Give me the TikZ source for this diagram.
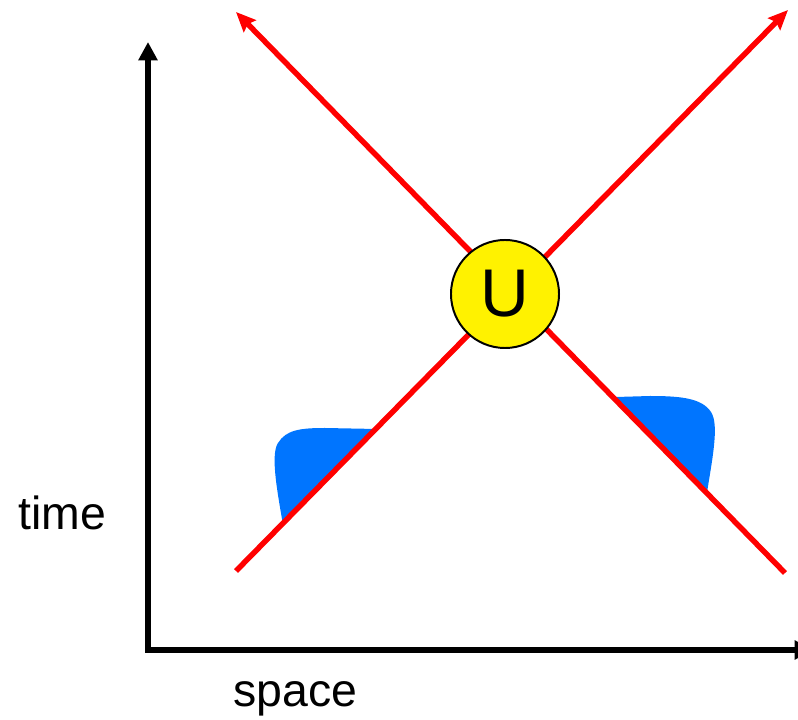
\documentclass[tikz,border=0pt]{standalone}
\usepackage{fontspec}
\setmainfont{Liberation Sans}
\usetikzlibrary{arrows.meta}
\definecolor{pulse}{RGB}{0,117,255}
\begin{document}
\begin{tikzpicture}[x=0.025cm, y=-0.025cm]
	\tikzstyle{ray} = [red, line width=3.9pt, -{Stealth[length=14pt, width=12pt, inset=2pt]}]
	\tikzstyle{axis} = [black, line width=4.3pt, miter limit=10, {Triangle[length=13pt, width=13pt]}-{Triangle[length=13pt, width=13pt]}]
	\tikzstyle{gate} = [circle, draw, line width=1.4pt, fill=yellow, minimum size=2.7cm, inner sep=0pt, font=\fontsize{48}{50}\selectfont]
	\tikzstyle{label} = [anchor=base west, inner sep=0pt, font=\fontsize{33}{36}\selectfont]
	\useasboundingbox (0,0) rectangle (798,720);

	% Define end points
	\coordinate (O) at (148,650);
	\coordinate (T) at (148,42);
	\coordinate (S) at (813,650);
	\coordinate (inA) at (236,571);
	\coordinate (outA) at (788,10);
	\coordinate (inB) at (785,573);
	\coordinate (outB) at (236,12);

	% Wave packets
	\fill[pulse] (377,429) -- (283,525) .. controls (278,495) and (270,455) .. (278,443)
		.. controls (286,430) and (300,428) .. (325,428) -- cycle;
	\fill[pulse] (616,397) -- (707,493) .. controls (711,465) and (720,425) .. (711,412)
		.. controls (702,398) and (680,396) .. (650,396) -- cycle;

	% Draw rays
	\draw[ray] (inA) -- (outA);
	\draw[ray] (inB) -- (outB);

	% Define nodes
	\node[gate] (U) at (505,294) {U};
	\node[label] (time) at (18,530) {time};
	\node[label] (space) at (233,707) {space};

	% Axes
	\draw[axis] (T) -- (O) -- (S);
\end{tikzpicture}
\end{document}
